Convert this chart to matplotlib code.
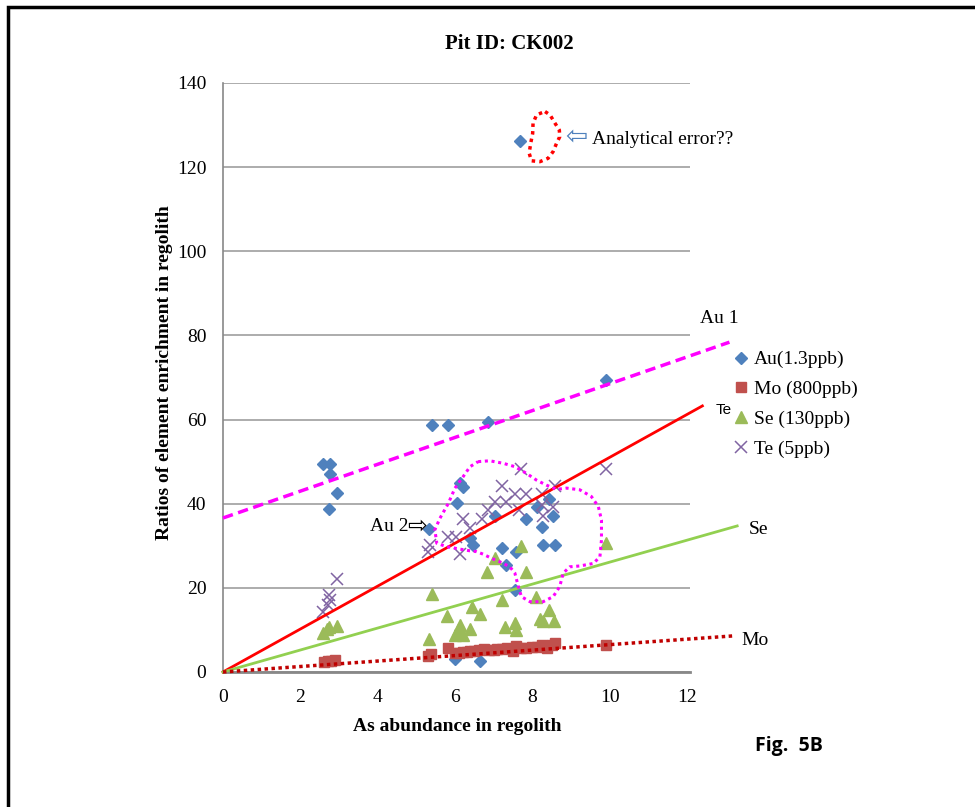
import numpy as np
import matplotlib
matplotlib.use('Agg')
import matplotlib.pyplot as plt
from matplotlib.patches import Rectangle

# data
au_x = [2.59, 2.77, 2.77, 2.96, 2.75, 5.33, 5.40, 5.81, 6.86, 6.13, 6.21, 6.06, 7.03, 6.39, 6.47,
        7.22, 7.59, 7.32, 7.83, 8.11, 8.43, 8.54, 8.24, 8.27, 8.59, 7.55, 6.00, 6.66, 9.91, 7.68]
au_y = [49.4, 49.4, 47.1, 42.5, 38.7, 34.0, 58.6, 58.6, 59.5, 44.9, 43.9, 40.1, 37.1, 31.8, 30.2,
        29.5, 28.6, 25.4, 36.3, 39.3, 41.1, 37.1, 34.5, 30.1, 30.1, 19.5, 3.2, 2.5, 69.4, 126.2]

mo_x = [2.60, 2.72, 2.80, 2.90, 5.31, 5.37, 5.83, 6.00, 6.10, 6.20, 6.30, 6.40, 6.50, 6.62, 6.75,
        6.88, 7.00, 7.10, 7.22, 7.35, 7.50, 7.58, 7.70, 7.85, 8.00, 8.12, 8.25, 8.38, 8.50, 8.59, 9.92]
mo_y = [2.3, 2.5, 2.7, 2.8, 3.7, 4.3, 5.6, 4.6, 4.5, 4.8, 4.7, 4.9, 5.0, 5.2, 5.4,
        5.2, 5.3, 5.5, 5.4, 5.6, 5.0, 6.2, 5.8, 5.6, 5.9, 6.0, 6.3, 5.8, 6.4, 6.8, 6.4]

se_x = [2.59, 2.70, 2.75, 2.96, 5.34, 5.41, 5.80, 6.00, 6.09, 6.13, 6.21, 6.39, 6.45, 6.65,
        6.84, 7.03, 7.22, 7.29, 7.55, 7.58, 7.70, 7.83, 8.09, 8.21, 8.28, 8.43, 8.56, 9.92]
se_y = [9.2, 10.2, 10.8, 10.9, 7.8, 18.5, 13.2, 8.8, 10.0, 11.2, 8.8, 10.1, 15.5, 13.9,
        23.8, 27.0, 17.1, 10.8, 11.6, 10.0, 30.0, 23.8, 17.9, 12.7, 12.2, 14.7, 12.2, 30.6]

te_x = [2.59, 2.72, 2.75, 2.77, 2.96, 5.31, 5.35, 5.83, 6.04, 6.13, 6.21, 6.39, 6.69, 6.86,
        7.03, 7.22, 7.32, 7.55, 7.66, 7.72, 7.83, 8.24, 8.24, 8.28, 8.54, 8.59, 9.92]
te_y = [14.3, 15.9, 18.3, 17.1, 22.1, 28.6, 30.2, 32.2, 32.2, 28.0, 36.3, 34.2, 36.3, 38.4,
        40.3, 44.1, 40.3, 42.3, 38.5, 48.2, 42.3, 42.3, 39.7, 37.1, 39.3, 44.2, 48.2]

# trend lines: y = slope*x + intercept, drawn from 0 to x_end
trend_slope = [3.19, 5.10, 2.61, 0.65]
trend_icpt = [36.6, 0, 0, 0]
trend_end = [13.1, 12.4, 13.3, 13.2]

# hand drawn outlines (annotation shapes)
cloud_x = [6.60, 6.90, 7.25, 7.55, 7.85, 8.11, 8.37, 8.63, 8.89, 9.23, 9.53, 9.71, 9.79, 9.79, 9.75,
           9.58, 9.23, 8.97, 8.80, 8.71, 8.54, 8.28, 7.94, 7.72, 7.64, 7.55, 7.42, 7.16, 6.95, 6.73,
           6.56, 6.39, 6.13, 5.78, 5.53, 5.48, 5.61, 5.83, 6.00, 6.21, 6.39, 6.60]
cloud_y = [50.0, 50.2, 49.6, 48.8, 47.2, 45.6, 44.4, 43.4, 43.7, 43.3, 41.7, 39.3, 36.1, 31.4, 27.4,
           25.8, 25.2, 25.0, 23.5, 20.3, 17.9, 16.7, 16.7, 17.9, 20.3, 23.5, 25.0, 26.2, 27.0, 28.0,
           28.6, 28.8, 29.2, 29.8, 30.6, 33.8, 36.5, 40.1, 43.7, 46.4, 48.8, 50.0]
loop_x = [8.33, 8.46, 8.59, 8.70, 8.71, 8.63, 8.54, 8.41, 8.20, 7.98, 7.92, 7.96, 8.01, 8.02, 8.11, 8.24, 8.33]
loop_y = [133.2, 132.4, 130.4, 128.8, 127.2, 125.7, 123.7, 122.1, 121.3, 121.5, 123.3, 125.7, 128.0,
          130.4, 132.4, 132.9, 133.2]

serif = 'Liberation Serif'
fig = plt.figure(figsize=(9.75, 8.07), dpi=100)
ax = fig.add_axes([0.2287, 0.1673, 0.479, 0.7299])

ax.plot(au_x, au_y, 'D', color='#4F81BD', ms=6.5, mec='#4F81BD', label='Au(1.3ppb)', zorder=3)
ax.plot(mo_x, mo_y, 's', color='#C0504D', ms=7.5, mec='#C0504D', label='Mo (800ppb)', zorder=3)
ax.plot(se_x, se_y, '^', color='#9BBB59', ms=8.5, mec='#9BBB59', label='Se (130ppb)', zorder=3)
ax.plot(te_x, te_y, 'x', color='#8064A2', ms=8, mew=1.1, label='Te (5ppb)', zorder=3)

styles = [dict(color='#FF00FF', ls=(0, (3, 1.6)), lw=2.5),
          dict(color='#FF0000', ls='-', lw=2),
          dict(color='#92D050', ls='-', lw=2),
          dict(color='#C00000', ls=(0, (1, 1)), lw=2.5)]
for m, b, xe, st in zip(trend_slope, trend_icpt, trend_end, styles):
    xs = np.array([0, xe])
    ax.plot(xs, m * xs + b, clip_on=False, zorder=4, **st)

ax.plot(cloud_x, cloud_y, color='#FF00FF', ls=(0, (1, 1.2)), lw=2.2, zorder=4)
ax.plot(loop_x, loop_y, color='#FF0000', ls=(0, (1, 1.2)), lw=2.5, zorder=4, clip_on=False)

ax.set_xlim(0, 12.08)
ax.set_ylim(0, 140)
ax.set_xticks(range(0, 13, 2))
ax.set_yticks(range(0, 141, 20))
ax.yaxis.grid(True, color='#969696', lw=1.1)
ax.set_axisbelow(True)
for s in ['top', 'right']:
    ax.spines[s].set_visible(False)
for s in ['left', 'bottom']:
    ax.spines[s].set_color('#888888')
ax.spines['left'].set_linewidth(1.2)
ax.spines['bottom'].set_linewidth(2)
ax.tick_params(length=0, pad=12, labelsize=14)
for lab in ax.get_xticklabels() + ax.get_yticklabels():
    lab.set_family(serif)

# text annotations
tk = dict(family=serif, fontsize=14, va='center')
ax.text(9.54, 126.5, 'Analytical error??', ha='left', **tk)
ax.text(9.13, 127.0, '\u21e6', ha='center', va='center', fontsize=19, color='#4F81BD', family='DejaVu Sans')
ax.text(3.80, 34.5, 'Au 2', ha='left', **tk)
ax.text(5.02, 34.7, '\u21e8', ha='center', va='center', fontsize=17, color='black', family='DejaVu Sans')
ax.text(12.34, 84.1, 'Au 1', ha='left', clip_on=False, **tk)
ax.text(12.75, 62.3, 'Te', ha='left', family='Liberation Sans', fontsize=11, va='center')
ax.text(13.6, 33.8, 'Se', ha='left', **tk)
ax.text(13.42, 7.6, 'Mo', ha='left', **tk)

leg = fig.legend(loc='upper left', bbox_to_anchor=(0.745, 0.575), frameon=False,
                 prop={'family': serif, 'size': 14}, handlelength=0.7, handletextpad=0.3,
                 labelspacing=0.62, borderaxespad=0)

fig.text(0.522, 0.945, 'Pit ID: CK002', ha='center', va='center', family=serif,
         fontsize=15, weight='bold')
fig.text(0.469, 0.100, 'As abundance in regolith', ha='center', va='center', family=serif,
         fontsize=14, weight='bold')
fig.text(0.169, 0.538, 'Ratios of element enrichment in regolith', ha='center', va='center',
         rotation=90, family=serif, fontsize=14, weight='bold')
fig.text(0.809, 0.0755, 'Fig.  5B', ha='center', va='center', family='Open Sans',
         fontsize=14, weight='bold')

# outer frame
fig.patches.append(Rectangle((8 / 975, -0.05), 1.2, 1 - 7 / 807 + 0.05, transform=fig.transFigure,
                             fill=False, ec='black', lw=2.5))

fig.savefig('out.png', dpi=100)
